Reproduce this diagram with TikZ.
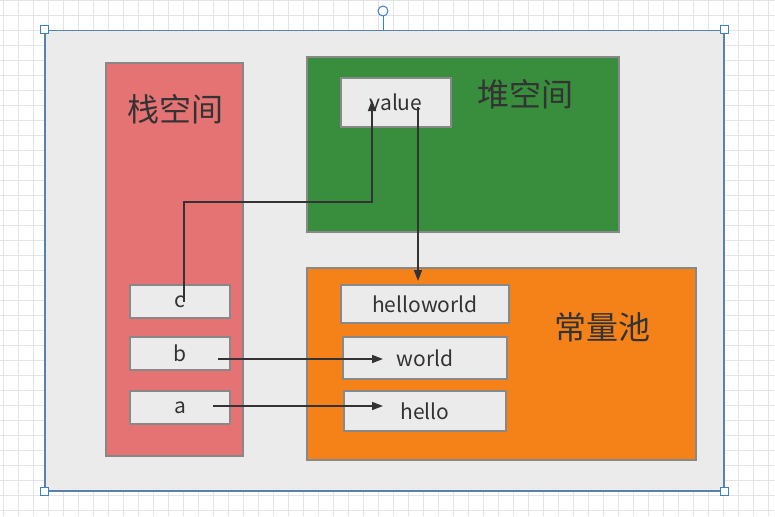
\documentclass[tikz,border=0pt]{standalone}
\usepackage{fontspec}
\setmainfont{Noto Sans CJK SC}
\usetikzlibrary{arrows.meta}
\definecolor{gridc}{HTML}{E2E4E6}
\definecolor{outerfill}{HTML}{EBEBEB}
\definecolor{outerline}{HTML}{5A82A8}
\definecolor{handle}{HTML}{3A82C8}
\definecolor{boxline}{HTML}{888888}
\definecolor{stackc}{HTML}{E57373}
\definecolor{heapc}{HTML}{388E3C}
\definecolor{poolc}{HTML}{F48219}
\definecolor{txt}{HTML}{333333}
\tikzset{
  region/.style={draw=boxline, line width=1.8pt, inner sep=0pt, anchor=north west},
  cell/.style={draw=boxline, line width=1.8pt, fill=outerfill, inner sep=0pt, text=txt,
    font=\fontsize{21}{24}\selectfont},
  title/.style={text=txt, font=\fontsize{32}{35}\selectfont, inner sep=0pt},
  conn/.style={draw=txt, line width=1.6pt, -{Triangle[length=11pt,width=8pt]}},
  hnd/.style={draw=handle, fill=white, line width=1pt, minimum size=8pt, inner sep=0pt},
}
\begin{document}
\begin{tikzpicture}[x=1pt,y=-1pt]
\useasboundingbox (0,0) rectangle (775,516);
\fill[white] (0,0) rectangle (775,516);
% grid
\foreach \gx in {3,18,...,775} \draw[gridc, line width=0.9pt] (\gx,0) -- (\gx,516);
\foreach \gy in {0,15,...,516} \draw[gridc, line width=0.9pt] (0,\gy) -- (775,\gy);
% outer container
\node[draw=outerline, fill=outerfill, line width=1.5pt, inner sep=0pt, anchor=north west,
  minimum width=679pt, minimum height=460pt] (outer) at (44,30) {};
% selection handles
\node[hnd] (h1) at (outer.north west) {};
\node[hnd] (h2) at (outer.north east) {};
\node[hnd] (h3) at (outer.south west) {};
\node[hnd] (h4) at (outer.south east) {};
\node[draw=handle, fill=white, line width=1pt, circle, minimum size=10pt, inner sep=0pt] (rot) at (383,11) {};
\draw[handle, line width=1pt] (rot.south) -- (rot.south |- outer.north);
% regions
\node[region, fill=stackc, minimum width=137pt, minimum height=393pt] (stack) at (105,62) {};
\node[region, fill=heapc, minimum width=312pt, minimum height=175pt] (heap) at (306,56) {};
\node[region, fill=poolc, minimum width=389pt, minimum height=192pt] (pool) at (306,267) {};
\node[title] (stackt) at (175,109) {栈空间};
\node[title] (heapt) at (525,94) {堆空间};
\node[title] (poolt) at (602,327) {常量池};
% cells
\node[cell, minimum width=110pt, minimum height=49pt] (value) at (396,102.5) {value};
\node[cell, minimum width=168pt, minimum height=38pt] (hw) at (425,304) {helloworld};
\node[cell, minimum width=164pt, minimum height=42pt] (world) at (425,358) {world};
\node[cell, minimum width=162pt, minimum height=40pt] (hello) at (425,411) {hello};
\node[cell, minimum width=100pt, minimum height=33pt] (c) at (180,301.5) {c};
\node[cell, minimum width=100pt, minimum height=33pt] (b) at (180,353.5) {b};
\node[cell, minimum width=100pt, minimum height=33pt] (a) at (180,407.5) {a};
% connector anchor points
\coordinate (cs) at (184,302);
\coordinate (bend) at (184,202);
\coordinate (vin) at (372,100);
\coordinate (vout) at (418,107);
\coordinate (hwin) at (418,281);
\coordinate (bs) at (218,359);
\coordinate (wi) at (383,359);
\coordinate (as) at (213,406);
\coordinate (hi) at (383,406);
% connectors
\draw[conn] (cs) -- (bend) -| (vin);
\draw[conn] (vout) -- (hwin);
\draw[conn] (bs) -- (wi);
\draw[conn] (as) -- (hi);
\end{tikzpicture}
\end{document}
